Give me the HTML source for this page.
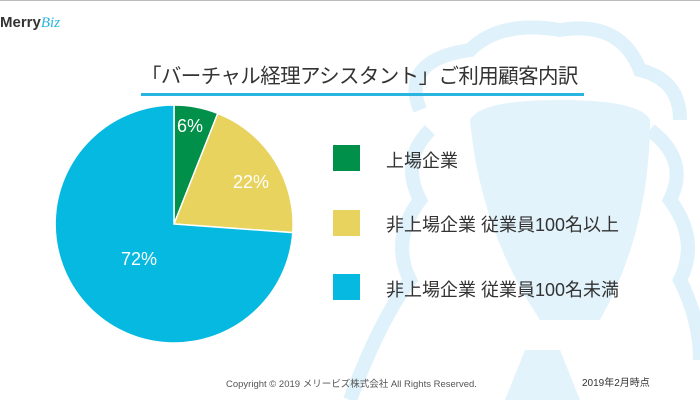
<!DOCTYPE html>
<html><head><meta charset="utf-8"><style>
body{margin:0;width:700px;height:400px;overflow:hidden;background:#fff;font-family:"Liberation Sans","Noto Sans CJK JP",sans-serif;position:relative}
.t{position:absolute;white-space:nowrap}
</style></head><body>
<div style="position:absolute;left:0;top:0;width:700px;height:1px;background:#bbb"></div>
<svg width="700" height="400" style="position:absolute;left:0;top:0">
 <g fill="none" stroke="#dff1fa" stroke-width="14">
  <path d="M420 110 Q400 60 470 50 Q500 20 560 30 Q620 20 640 70 Q680 80 680 120"/>
  <path d="M430 130 Q400 160 420 200 Q390 240 410 280 Q380 320 350 400"/>
  <path d="M650 130 Q690 160 670 200 Q700 240 680 280 Q700 320 700 360"/>
 </g>
 <path d="M470 120 Q480 100 560 100 Q640 100 650 120 Q650 230 600 320 L540 320 Q480 230 470 120Z" fill="#e2f3fb"/>
 <path d="M525 350 L560 350 L580 400 L505 400Z" fill="#e2f3fb"/>
 <path d="M174 224 L174 105 A119 119 0 0 1 217.8 113.4 Z" fill="#00904a" stroke="#fff" stroke-width="1.5"/>
 <path d="M174 224 L217.8 113.4 A119 119 0 0 1 292.8 232.6 Z" fill="#e8d35e" stroke="#fff" stroke-width="1.5"/>
 <path d="M174 224 L292.8 232.6 A119 119 0 1 1 174 105 Z" fill="#05b9e0" stroke="#fff" stroke-width="1.5"/>
 <rect x="141" y="93" width="443" height="3" fill="#2ab5e0"/>
 <rect x="333" y="145" width="27" height="26" fill="#00904a"/>
 <rect x="333" y="210" width="27" height="26" fill="#e8d35e"/>
 <rect x="333" y="274" width="27" height="26" fill="#05b9e0"/>
</svg>
<div class="t" style="left:0;top:14px;font-size:15px;font-weight:bold;color:#333">Merry<span style="color:#2ab5e0;font-style:italic;font-family:'Liberation Serif',serif;font-weight:normal">Biz</span></div>
<div class="t" style="left:141px;top:59px;font-size:20.5px;color:#333;letter-spacing:-0.6px">「バーチャル経理アシスタント」ご利用顧客内訳</div>
<div class="t" style="left:177px;top:116px;font-size:18px;color:#fff">6%</div>
<div class="t" style="left:233px;top:172px;font-size:18px;color:#fff">22%</div>
<div class="t" style="left:121px;top:249px;font-size:18px;color:#fff">72%</div>
<div class="t" style="left:386px;top:147px;font-size:18px;color:#333">上場企業</div>
<div class="t" style="left:386px;top:211px;font-size:18px;color:#333">非上場企業 従業員100名以上</div>
<div class="t" style="left:386px;top:276px;font-size:18px;color:#333">非上場企業 従業員100名未満</div>
<div class="t" style="left:226px;top:376px;font-size:9.5px;color:#555">Copyright © 2019 メリービズ株式会社 All Rights Reserved.</div>
<div class="t" style="left:582px;top:374px;font-size:10px;color:#333">2019年2月時点</div>
</body></html>
